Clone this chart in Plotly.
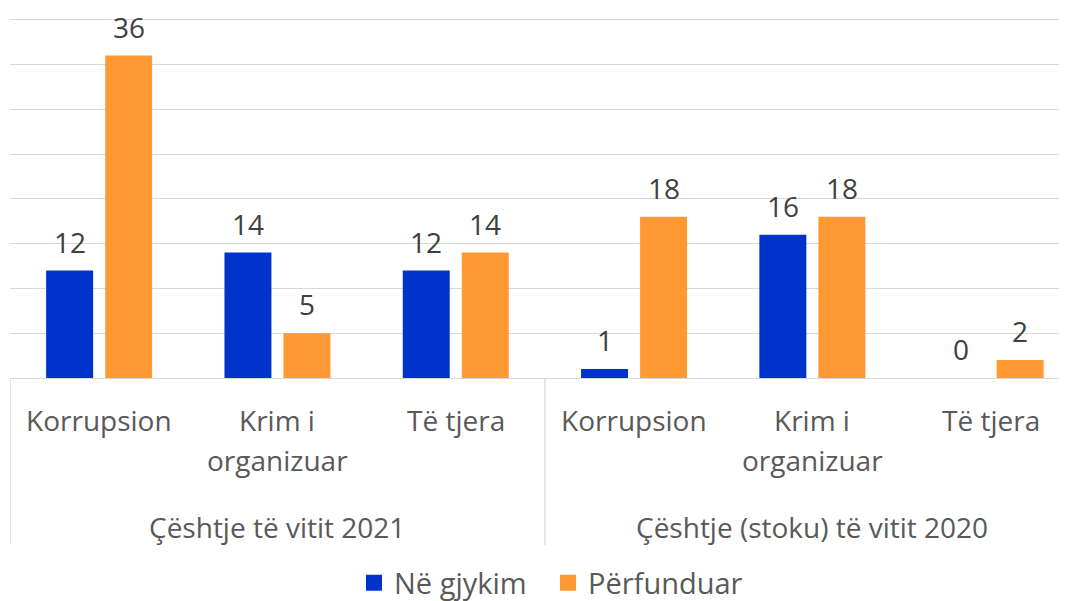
import plotly.graph_objects as go

# ---- data ----
groups = ["Çështje të vitit 2021", "Çështje (stoku) të vitit 2020"]
categories = [["Korrupsion"], ["Krim i", "organizuar"], ["Të tjera"]]
series_names = ["Në gjykim", "Përfunduar"]
ne_gjykim = [12, 14, 12, 1, 16, 0]
perfunduar = [36, 5, 14, 18, 18, 2]
colors = ["#0033CC", "#FF9933"]

n_cat = len(categories)
x_pos = list(range(len(groups) * n_cat))

BARGAP = 0.338
GROUPGAP = 0.204
TXT = "#595959"
FONT = "Open Sans"
FS = 28
PLOT_H = 361  # px

fig = go.Figure()
for name, vals, col in zip(series_names, [ne_gjykim, perfunduar], colors):
    fig.add_bar(x=x_pos, y=vals, name=name, showlegend=False,
                marker=dict(color=col, line=dict(width=0)))
# legend entries (square swatches), one legend per series
legend_ids = ["legend", "legend2"]
for name, col, lid in zip(series_names, colors, legend_ids):
    fig.add_scatter(x=[None], y=[None], mode="markers", name=name, legend=lid,
                    marker=dict(symbol="square", size=16, color=col))

annotations = []
# data labels
off = (1 - BARGAP) / 4
for k, vals in enumerate([ne_gjykim, perfunduar]):
    for i, v in enumerate(vals):
        annotations.append(dict(
            x=i + (-off if k == 0 else off), y=v, xref="x", yref="y",
            text=str(v), showarrow=False, yanchor="middle", yshift=29,
            font=dict(family=FONT, size=FS, color="#404040")))

# category labels
for g in range(len(groups)):
    for j, lines in enumerate(categories):
        for li, line in enumerate(lines):
            annotations.append(dict(
                x=g * n_cat + j, y=0, xref="x", yref="paper", text=line,
                showarrow=False, yanchor="middle", yshift=-42 - 40 * li,
                font=dict(family=FONT, size=FS, color=TXT)))
    annotations.append(dict(
        x=g * n_cat + (n_cat - 1) / 2, y=0, xref="x", yref="paper", text=groups[g],
        showarrow=False, yanchor="middle", yshift=-149,
        font=dict(family=FONT, size=FS, color=TXT)))

shapes = []
for g in range(len(groups) + 1):
    shapes.append(dict(type="line", xref="x", yref="paper",
                       x0=g * n_cat - 0.5, x1=g * n_cat - 0.5, y0=0, y1=-167 / PLOT_H,
                       line=dict(color="#d9d9d9", width=1.3)))

legend_common = dict(orientation="h", xanchor="left", y=-205 / PLOT_H, yanchor="middle",
                     font=dict(family=FONT, size=29, color=TXT))

fig.update_layout(
    width=1067, height=601,
    margin=dict(l=2, r=0, t=9, b=601 - 9 - PLOT_H, autoexpand=False),
    paper_bgcolor="white", plot_bgcolor="white",
    barmode="group", bargap=BARGAP, bargroupgap=GROUPGAP,
    font=dict(family=FONT, size=FS, color=TXT),
    showlegend=True,
    legend=dict(x=0.323, **legend_common),
    legend2=dict(x=0.5052, **legend_common),
    annotations=annotations,
    shapes=shapes,
    xaxis=dict(range=[-0.5, 5.473], showticklabels=False, showgrid=False, zeroline=False,
               showline=True, linecolor="#d9d9d9", linewidth=1.3, fixedrange=True),
    yaxis=dict(range=[0, 40.3], tickvals=[5, 10, 15, 20, 25, 30, 35, 40],
               showticklabels=False, showgrid=True,
               gridcolor="#d9d9d9", gridwidth=1.3, zeroline=False, fixedrange=True),
)

fig.write_html("out.html")
